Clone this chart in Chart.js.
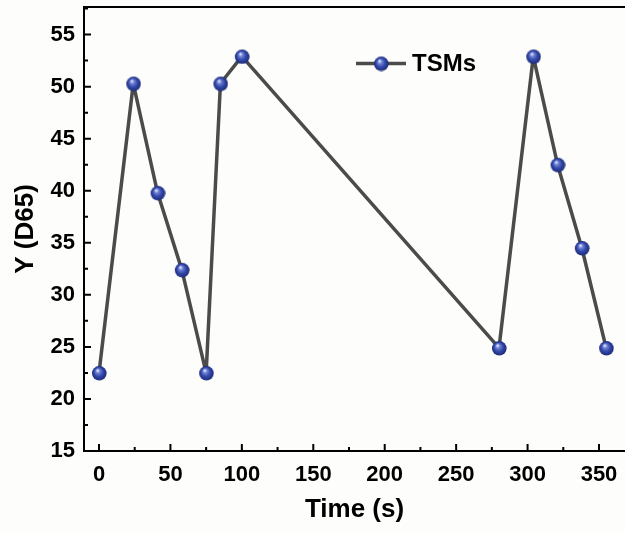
<!DOCTYPE html>
<html>
<head>
<meta charset="utf-8">
<script src="https://cdn.jsdelivr.net/npm/chart.js@4.4.1/dist/chart.umd.min.js"></script>
<style>
  html, body { margin: 0; padding: 0; background: #fdfdfb; }
  #wrap { width: 625px; height: 533px; position: relative; }
</style>
</head>
<body>
<div id="wrap"><canvas id="c" width="625" height="533"></canvas></div>
<script>
// ---- data ----
const seriesLabel = 'TSMs';
const timeValues = [0, 24, 41, 58, 75, 85, 100, 280, 304, 321, 338, 355];
const yD65Values = [22.5, 50.3, 39.8, 32.4, 22.5, 50.3, 52.9, 24.9, 52.9, 42.5, 34.5, 24.9];
const xTickValues = [0, 50, 100, 150, 200, 250, 300, 350];
const yTickValues = [15, 20, 25, 30, 35, 40, 45, 50, 55];
const xTitle = 'Time (s)';
const yTitle = 'Y (D65)';

const FONT = '"Liberation Sans", Arial, sans-serif';

// sphere marker
function makeSphere(r) {
  const s = r * 2 + 2;
  const cv = document.createElement('canvas');
  cv.width = s; cv.height = s;
  const g = cv.getContext('2d');
  const c = s / 2;
  const grad = g.createRadialGradient(c - r * 0.25, c - r * 0.4, r * 0.05, c, c, r);
  grad.addColorStop(0, '#e6eaff');
  grad.addColorStop(0.25, '#6f82d6');
  grad.addColorStop(0.6, '#3348a8');
  grad.addColorStop(1, '#1c2a78');
  g.fillStyle = grad;
  g.beginPath(); g.arc(c, c, r, 0, Math.PI * 2); g.fill();
  return cv;
}
const sphere = makeSphere(7.3);

const frameTicks = {
  id: 'frameTicks',
  afterDraw(chart) {
    const ctx = chart.ctx;
    const { left, right, top, bottom } = chart.chartArea;
    const xs = chart.scales.x, ys = chart.scales.y;
    ctx.save();
    ctx.strokeStyle = '#000';
    ctx.lineWidth = 2;
    ctx.beginPath();
    ctx.moveTo(left, top); ctx.lineTo(right + 2, top);
    ctx.moveTo(left, top - 1); ctx.lineTo(left, bottom + 1);
    ctx.moveTo(left - 1, bottom); ctx.lineTo(right + 2, bottom);
    ctx.stroke();
    ctx.beginPath();
    xTickValues.forEach(v => {
      const p = xs.getPixelForValue(v);
      ctx.moveTo(p, bottom); ctx.lineTo(p, bottom - 7);
      const m = xs.getPixelForValue(v + 25);
      if (m < right) { ctx.moveTo(m, bottom); ctx.lineTo(m, bottom - 4); }
    });
    yTickValues.forEach(v => {
      const p = ys.getPixelForValue(v);
      ctx.moveTo(left, p); ctx.lineTo(left + 7, p);
      const m = ys.getPixelForValue(v + 2.5);
      if (m > top) { ctx.moveTo(left, m); ctx.lineTo(left + 4, m); }
    });
    ctx.stroke();
    ctx.restore();
  }
};

const sphereLegend = {
  id: 'sphereLegend',
  afterDraw(chart) {
    const ctx = chart.ctx;
    const ds = chart.data.datasets[0];
    ctx.save();
    const y = 63.5;
    ctx.strokeStyle = ds.borderColor;
    ctx.lineWidth = ds.borderWidth;
    ctx.beginPath(); ctx.moveTo(356, y); ctx.lineTo(406, y); ctx.stroke();
    ctx.drawImage(sphere, 381 - sphere.width / 2, y - sphere.height / 2);
    ctx.fillStyle = '#000';
    ctx.font = 'bold 24px ' + FONT;
    ctx.textBaseline = 'middle';
    ctx.textAlign = 'left';
    ctx.fillText(ds.label, 412, y + 1);
    ctx.restore();
  }
};

function zeroPad(s) { s.paddingLeft = 0; s.paddingRight = 0; s.paddingTop = 0; s.paddingBottom = 0; }

new Chart(document.getElementById('c'), {
  type: 'line',
  data: {
    datasets: [{
      label: seriesLabel,
      data: timeValues.map((t, i) => ({ x: t, y: yD65Values[i] })),
      borderColor: '#4b4b4b',
      borderWidth: 3.5,
      borderJoinStyle: 'round',
      borderCapStyle: 'round',
      tension: 0,
      pointStyle: sphere,
      pointRadius: 7,
      pointHoverRadius: 7
    }]
  },
  options: {
    responsive: false,
    animation: false,
    events: [],
    layout: { autoPadding: false, padding: { left: 0, right: 0, top: 7, bottom: 0 } },
    plugins: { legend: { display: false }, tooltip: { enabled: false } },
    scales: {
      x: {
        type: 'linear',
        min: -10.5,
        max: 368.2,
        afterBuildTicks: s => { s.ticks = xTickValues.map(v => ({ value: v })); },
        afterFit: s => { s.height = 82; zeroPad(s); },
        grid: { display: true, drawOnChartArea: false, drawTicks: false, color: 'rgba(0,0,0,0)' },
        border: { display: false },
        ticks: { color: '#000', font: { family: FONT, size: 22, weight: 'bold' }, padding: 11, maxRotation: 0, autoSkip: false },
        title: { display: true, text: xTitle, color: '#000', font: { family: FONT, size: 26, weight: 'bold' }, padding: { top: 0, bottom: 8 } }
      },
      y: {
        type: 'linear',
        min: 15,
        max: 57.65,
        afterBuildTicks: s => { s.ticks = yTickValues.map(v => ({ value: v })); },
        afterFit: s => { s.width = 84; zeroPad(s); },
        grid: { display: true, drawOnChartArea: false, drawTicks: false, color: 'rgba(0,0,0,0)' },
        border: { display: false },
        ticks: { color: '#000', font: { family: FONT, size: 22, weight: 'bold' }, padding: 9 },
        title: { display: true, text: yTitle, color: '#000', font: { family: FONT, size: 26, weight: 'bold' }, padding: { top: 10.5, bottom: 0 } }
      }
    }
  },
  plugins: [frameTicks, sphereLegend]
});
</script>
</body>
</html>
